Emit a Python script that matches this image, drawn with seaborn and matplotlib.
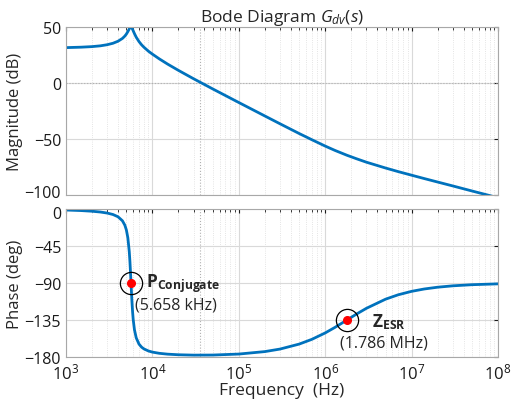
import numpy as np
import pandas as pd
import seaborn as sns
import matplotlib
matplotlib.use("Agg")
import matplotlib.pyplot as plt
import matplotlib.transforms as mtransforms
from matplotlib.ticker import LogLocator, NullFormatter, FixedLocator

# values
freq_hz = [1e3, 1.5e3, 2e3, 2.5e3, 3e3, 3.5e3, 4e3, 4.5e3, 4.8e3, 5e3, 5.2e3, 5.4e3,
           5.5e3, 5.6e3, 5.658e3, 5.72e3, 5.8e3, 5.9e3, 6e3, 6.2e3, 6.5e3, 7e3, 7.5e3,
           8e3, 9e3, 1e4, 1.2e4, 1.5e4, 2e4, 3e4, 5e4, 1e5, 2e5, 3e5, 5e5, 7e5, 1e6,
           1.3e6, 1.786e6, 2.3e6, 3e6, 5e6, 7e6, 1e7, 1.4e7, 2e7, 3e7, 5e7, 1e8]
mag_db = [31.6, 32.0, 32.5, 33.2, 34.2, 35.5, 37.3, 39.8, 41.9, 43.7, 45.9, 48.3,
          49.35, 49.96, 50.0, 49.76, 49.1, 47.9, 46.6, 44.1, 40.9, 37.0, 34.1,
          31.9, 28.4, 25.8, 21.6, 16.9, 11.3, 3.8, -5.3, -17.4, -29.4, -36.4, -45.1,
          -50.6, -56.3, -60.2, -64.5, -67.6, -70.7, -75.9, -79.1, -82.3, -85.3, -88.4,
          -91.9, -96.4, -102.4]
phase_deg = [-1.21, -1.89, -2.69, -3.65, -4.91, -6.68, -9.41, -14.29, -19.64, -25.46,
             -34.95, -51.68, -64.34, -79.99, -89.82, -100.21, -112.46, -124.98, -134.46,
             -146.82, -156.66, -164.29, -168.0, -170.19, -172.66, -174.03, -175.49,
             -176.53, -177.26, -177.71, -177.61, -176.41, -173.42, -170.34, -164.28,
             -158.54, -150.72, -143.92, -134.98, -127.82, -120.76, -109.66, -104.31,
             -100.13, -97.27, -95.1, -93.41, -92.05, -91.02]

crossover_hz = 3.55e4
pole_hz, pole_phase = 5658, -90
zero_hz, zero_phase = 1.786e6, -135

mag_ticks = [50, 0, -50, -100]
phase_ticks = [0, -45, -90, -135, -180]

df = pd.DataFrame({"freq": freq_hz, "mag": mag_db, "phase": phase_deg})

sns.set_style("white")
plt.rcParams["font.family"] = ["Open Sans", "DejaVu Sans"]
plt.rcParams["mathtext.fontset"] = "custom"
plt.rcParams["mathtext.rm"] = "Open Sans"
plt.rcParams["mathtext.it"] = "Open Sans:italic"
plt.rcParams["mathtext.bf"] = "Open Sans:bold"

line_color = "#0072BD"

fig = plt.figure(figsize=(5.22, 4.06), dpi=100)
ax_mag = fig.add_axes([0.1264, 0.5172, 0.8276, 0.4138])
ax_ph = fig.add_axes([0.1264, 0.1182, 0.8276, 0.3645])

sns.lineplot(data=df, x="freq", y="mag", ax=ax_mag, color=line_color, linewidth=2)
sns.lineplot(data=df, x="freq", y="phase", ax=ax_ph, color=line_color, linewidth=2)

for ax in (ax_mag, ax_ph):
    ax.set_xscale("log")
    ax.set_xlim(1e3, 1e8)
    ax.xaxis.set_major_locator(LogLocator(base=10, numticks=10))
    ax.xaxis.set_minor_locator(LogLocator(base=10, subs=np.arange(2, 10), numticks=100))
    ax.xaxis.set_minor_formatter(NullFormatter())
    ax.grid(which="major", color="#d9d9d9", linewidth=0.8, linestyle="-")
    ax.grid(which="minor", axis="x", color="#dcdcdc", linewidth=0.6, linestyle=":")
    ax.axvline(crossover_hz, color="#b0b0b0", linewidth=0.8, linestyle=":", zorder=1)
    ax.tick_params(which="both", direction="in", top=True, right=True,
                   colors="#1a1a1a", labelsize=11.5)
    ax.tick_params(which="major", length=3)
    ax.tick_params(which="minor", length=2)
    for s in ax.spines.values():
        s.set_color("#a8a8a8")
        s.set_linewidth(0.8)

ax_mag.set_ylim(-100, 50)
ax_mag.yaxis.set_major_locator(FixedLocator(mag_ticks))
ax_mag.axhline(0, color="#b0b0b0", linewidth=0.8, linestyle=":", zorder=1)
ax_mag.set_xticklabels([])
ax_mag.set_xlabel("")
ax_mag.set_ylabel("Magnitude (dB)", fontsize=12, labelpad=1)
ax_mag.set_title(r"Bode Diagram $G_{dv}(s)$", fontsize=12.5, pad=4)

ax_ph.set_ylim(-180, 0)
ax_ph.yaxis.set_major_locator(FixedLocator(phase_ticks))
ax_ph.set_ylabel("Phase (deg)", fontsize=12, labelpad=1)
ax_ph.set_xlabel("Frequency  (Hz)", fontsize=12.5, labelpad=0)
ax_ph.tick_params(axis="x", which="major", labelsize=12, pad=4)

# keep the "-100" and "0" labels at the panel seam apart
fig.canvas.draw()
up = mtransforms.ScaledTranslation(0, 4 / 100, fig.dpi_scale_trans)
down = mtransforms.ScaledTranslation(0, -3 / 100, fig.dpi_scale_trans)
for lab in ax_mag.get_yticklabels():
    if lab.get_text().replace("\u2212", "-") == "-100":
        lab.set_transform(lab.get_transform() + up)
for lab in ax_ph.get_yticklabels():
    if lab.get_text() == "0":
        lab.set_transform(lab.get_transform() + down)

# pole / zero markers
for fx, py in [(pole_hz, pole_phase), (zero_hz, zero_phase)]:
    ax_ph.plot(fx, py, "o", ms=16, mfc="none", mec="black", mew=0.9, zorder=4)
    ax_ph.plot(fx, py, "o", ms=5.5, color="red", zorder=5)

ax_ph.annotate(r"$\mathbf{P}_{\mathbf{Conjugate}}$", (pole_hz, pole_phase),
               xytext=(15, 0), textcoords="offset pixels", ha="left", va="center",
               fontsize=12.5)
ax_ph.annotate("(5.658 kHz)", (pole_hz, pole_phase), xytext=(4, -21),
               textcoords="offset pixels", ha="left", va="center", fontsize=11.5)
ax_ph.annotate(r"$\mathbf{Z}_{\mathbf{ESR}}$", (zero_hz, zero_phase),
               xytext=(25, -1), textcoords="offset pixels", ha="left", va="center",
               fontsize=12.5)
ax_ph.annotate("(1.786 MHz)", (zero_hz, zero_phase), xytext=(-7, -22),
               textcoords="offset pixels", ha="left", va="center", fontsize=11.5)

fig.savefig("out.png", dpi=100)
